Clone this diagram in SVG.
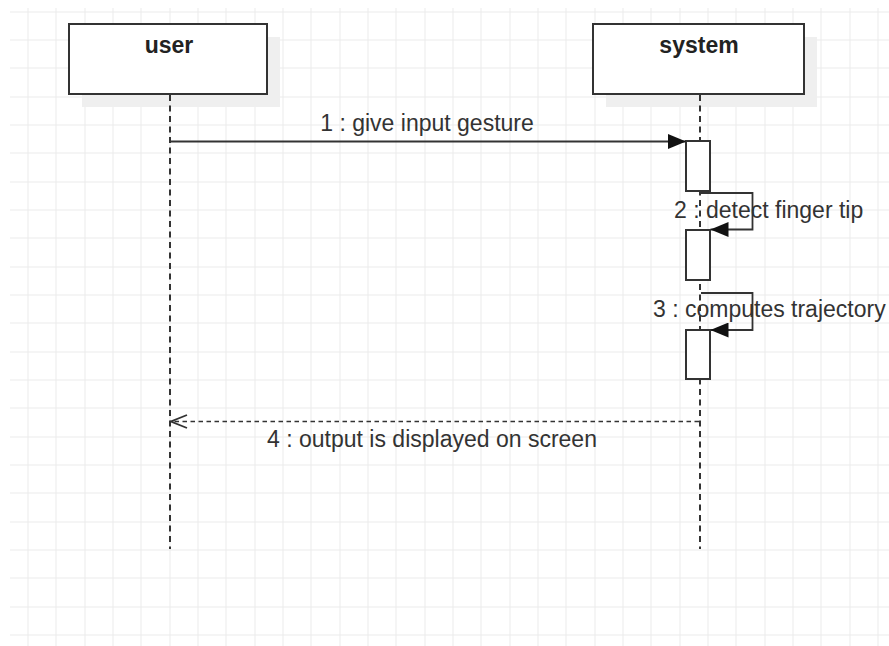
<svg xmlns="http://www.w3.org/2000/svg" width="889" height="646" viewBox="0 0 889 646">
  <style>
    .grid { stroke: #ebebeb; stroke-width: 1; fill: none; }
    .head { fill: #fff; stroke: #333; stroke-width: 2; }
    .shadow { fill: #efefef; stroke: none; }
    .title { font-family: "Liberation Sans", Arial, sans-serif; font-size: 23px; font-weight: bold; fill: #222; text-anchor: middle; }
    .lifeline { stroke: #333; stroke-width: 2; stroke-dasharray: 6 4.5; fill: none; }
    .act { fill: #fff; stroke: #333; stroke-width: 2; }
    .msg { stroke: #333; stroke-width: 1.8; fill: none; }
    .reply { stroke: #333; stroke-width: 1.6; fill: none; stroke-dasharray: 4.5 3.5; }
    .label { font-family: "Liberation Sans", Arial, sans-serif; font-size: 23px; fill: #333; }
  </style>
  <defs>
    <marker id="solidHead" markerUnits="userSpaceOnUse" viewBox="0 0 18 15" refX="18" refY="7.5" markerWidth="18" markerHeight="15" orient="auto">
      <path d="M0,0 L18,7.5 L0,15 z" fill="#111" stroke="none"/>
    </marker>
    <marker id="openHead" markerUnits="userSpaceOnUse" viewBox="-19 -8 21 16" refX="0" refY="0" markerWidth="21" markerHeight="16" orient="auto">
      <path d="M-16,-6.5 L0,0 L-16,6.5" fill="none" stroke="#333" stroke-width="1.8" stroke-dasharray="none"/>
    </marker>
  </defs>

  <rect width="889" height="646" fill="#fff"/>

  <!-- background grid -->
  <g id="grid">
    <path class="grid" d="M28,8V646 M56,8V646 M85,8V646 M113,8V646 M141,8V646 M170,8V646 M198,8V646 M226,8V646 M255,8V646 M283,8V646 M311,8V646 M340,8V646 M368,8V646 M396,8V646 M425,8V646 M453,8V646 M481,8V646 M510,8V646 M538,8V646 M566,8V646 M595,8V646 M623,8V646 M651,8V646 M680,8V646 M708,8V646 M736,8V646 M765,8V646 M793,8V646 M821,8V646 M850,8V646 M878,8V646"/>
    <path class="grid" d="M10,12H889 M10,40H889 M10,68H889 M10,97H889 M10,125H889 M10,153H889 M10,182H889 M10,210H889 M10,238H889 M10,267H889 M10,295H889 M10,323H889 M10,352H889 M10,380H889 M10,408H889 M10,437H889 M10,465H889 M10,493H889 M10,522H889 M10,550H889 M10,578H889 M10,607H889 M10,635H889"/>
  </g>

  <!-- participant: user -->
  <g id="user">
    <rect class="shadow" x="82" y="37" width="198" height="70"/>
    <line class="lifeline" x1="170" y1="95" x2="170" y2="549"/>
    <rect class="head" x="69" y="24" width="198" height="70"/>
    <text class="title" x="169" y="53">user</text>
  </g>

  <!-- participant: system -->
  <g id="system">
    <rect class="shadow" x="606" y="37" width="211" height="70"/>
    <line class="lifeline" x1="700" y1="95" x2="700" y2="549"/>
    <rect class="head" x="593" y="24" width="211" height="70"/>
    <text class="title" x="699" y="53">system</text>
  </g>

  <!-- activation bars on the system lifeline -->
  <g id="activation1"><rect class="act" x="686" y="141" width="24" height="50"/></g>
  <g id="activation2"><rect class="act" x="686" y="230" width="24" height="50"/></g>
  <g id="activation3"><rect class="act" x="686" y="330" width="24" height="49"/></g>

  <!-- messages -->
  <g id="connectors">
    <line class="msg" x1="170" y1="141.5" x2="686" y2="141.5" marker-end="url(#solidHead)"/>
    <path class="msg" d="M701,193 H752.5 V229.5 H710.5" marker-end="url(#solidHead)"/>
    <path class="msg" d="M701,293 H752.5 V330 H710.5" marker-end="url(#solidHead)"/>
    <line class="reply" x1="699" y1="421.5" x2="171" y2="421.5" marker-end="url(#openHead)"/>

    <text class="label" x="427" y="131" text-anchor="middle">1 : give input gesture</text>
    <text class="label" x="674" y="218">2 : detect finger tip</text>
    <text class="label" x="653" y="317">3 : computes trajectory</text>
    <text class="label" x="432" y="447" text-anchor="middle">4 : output is displayed on screen</text>
  </g>
</svg>
